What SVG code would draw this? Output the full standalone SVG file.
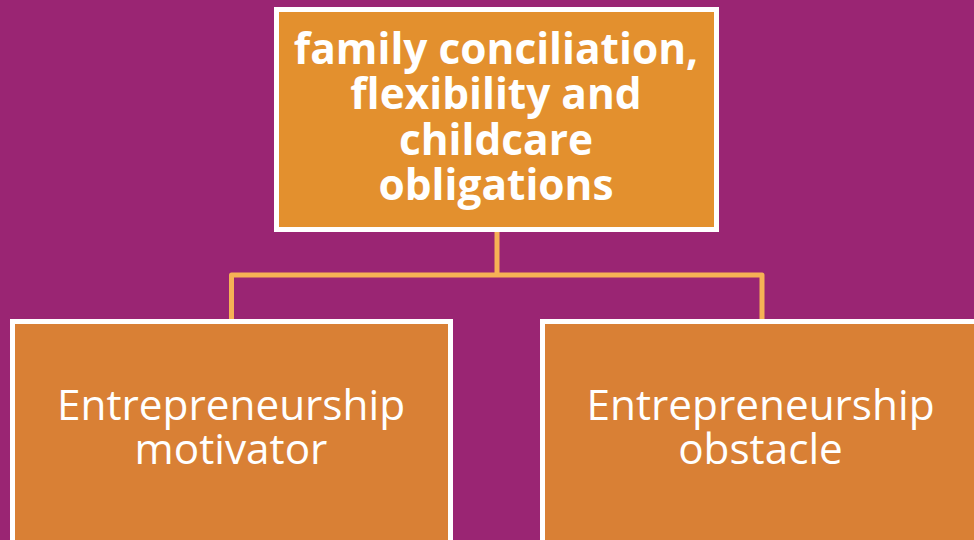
<svg xmlns="http://www.w3.org/2000/svg" width="974" height="540" viewBox="0 0 974 540">
  <style>
    .box { stroke: #ffffff; stroke-width: 5; }
    .top { fill: #e3902e; }
    .child { fill: #d98035; }
    .link { fill: none; stroke: #f6b155; stroke-width: 5; stroke-linejoin: round; }
    .head { font-family: "Open Sans", "Liberation Sans", sans-serif; font-weight: bold; font-size: 42.4px; fill: #ffffff; text-anchor: middle; }
    .label { font-family: "Open Sans", "Liberation Sans", sans-serif; font-size: 42.3px; fill: #ffffff; text-anchor: middle; }
  </style>
  <rect width="974" height="540" fill="#9a2573"/>

  <g id="connectors">
    <path class="link" d="M497 232 V275"/>
    <path class="link" d="M231.5 319 V275 H762 V319"/>
  </g>

  <g id="node-root">
    <rect class="box top" x="276.5" y="9.5" width="440" height="220"/>
    <text class="head" x="496" y="63.5">family conciliation,</text>
    <text class="head" x="496" y="109">flexibility and</text>
    <text class="head" x="496" y="154.5">childcare</text>
    <text class="head" x="496" y="200">obligations</text>
  </g>

  <g id="node-motivator">
    <rect class="box child" x="12.5" y="321.5" width="438" height="230"/>
    <text class="label" x="231" y="420">Entrepreneurship</text>
    <text class="label" x="231" y="463.5">motivator</text>
  </g>

  <g id="node-obstacle">
    <rect class="box child" x="542.5" y="321.5" width="436" height="230"/>
    <text class="label" x="760.5" y="420">Entrepreneurship</text>
    <text class="label" x="760.5" y="463.5">obstacle</text>
  </g>
</svg>
